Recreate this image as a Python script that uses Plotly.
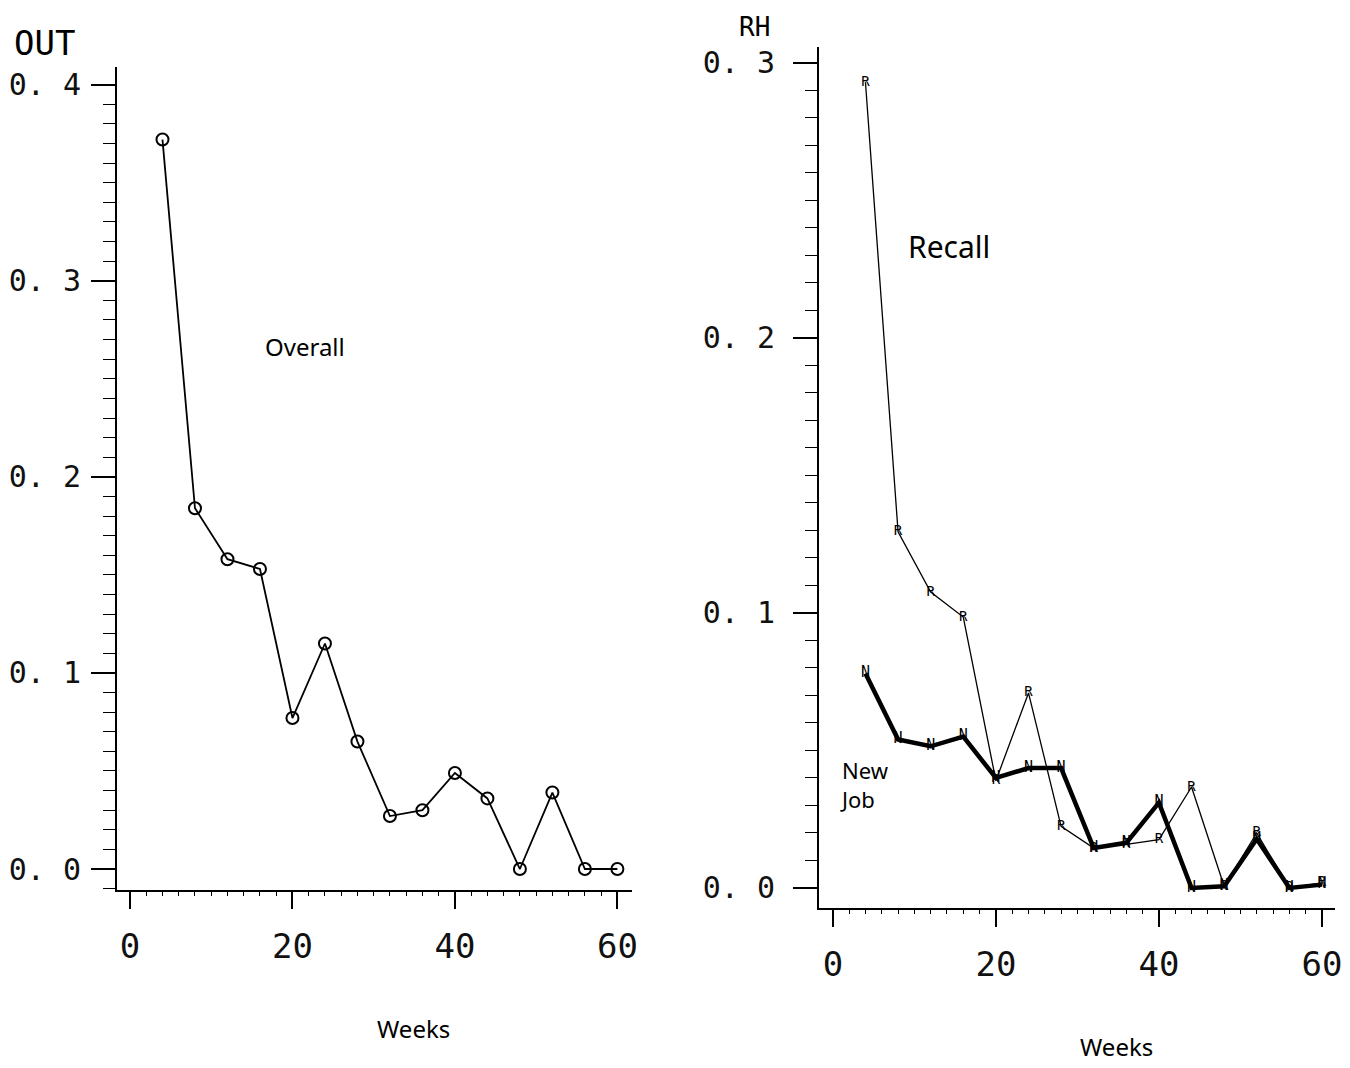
import plotly.graph_objects as go

weeks = [4, 8, 12, 16, 20, 24, 28, 32, 36, 40, 44, 48, 52, 56, 60]
overall = [0.372, 0.184, 0.158, 0.153, 0.077, 0.115, 0.065, 0.027, 0.030, 0.049, 0.036, 0.0, 0.039, 0.0, 0.0]
recall = [0.293, 0.1295, 0.1076, 0.0985, 0.039, 0.0709, 0.0224, 0.0145, 0.0158, 0.0176, 0.0367, 0.0006, 0.020, 0.0, 0.0018]
new_job = [0.078, 0.054, 0.0515, 0.055, 0.040, 0.0436, 0.0436, 0.0145, 0.0164, 0.031, 0.0, 0.0006, 0.0178, 0.0, 0.0012]

x_ticks = [0, 20, 40, 60]
x_tick_text = ["0", "20", "40", "60"]
y_left_ticks = [0.0, 0.1, 0.2, 0.3, 0.4]
y_left_text = ["0. 0", "0. 1", "0. 2", "0. 3", "0. 4"]
y_right_ticks = [0.0, 0.1, 0.2, 0.3]
y_right_text = ["0. 0", "0. 1", "0. 2", "0. 3"]

MONO = "DejaVu Sans Mono"
HAND = "Noto Sans"
W, H = 1350, 1068
OFF = 8  # page body margin


def fx(px):
    return (px - OFF) / W


def fy(py):
    return 1 - (py - OFF) / H


fig = go.Figure()

fig.add_trace(go.Scatter(
    x=weeks, y=overall, mode="lines+markers",
    line=dict(color="black", width=1.8),
    marker=dict(symbol="circle-open", size=12, color="black", line=dict(width=2)),
    xaxis="x", yaxis="y", showlegend=False, cliponaxis=False))

fig.add_trace(go.Scatter(
    x=weeks, y=recall, mode="lines+text", text=["R"] * len(weeks),
    textposition="middle center", textfont=dict(family=MONO, size=14, color="black"),
    line=dict(color="black", width=1.3),
    xaxis="x2", yaxis="y2", showlegend=False, cliponaxis=False))

fig.add_trace(go.Scatter(
    x=weeks, y=new_job, mode="lines+text", text=["N"] * len(weeks),
    textposition="middle center", textfont=dict(family=MONO, size=15, color="black"),
    line=dict(color="black", width=4.5),
    xaxis="x2", yaxis="y2", showlegend=False, cliponaxis=False))


def xax(domain, rng, anchor):
    return dict(domain=domain, range=rng, anchor=anchor,
                tickmode="array", tickvals=x_ticks, ticktext=x_tick_text,
                ticks="outside", ticklen=17, tickwidth=1.5, tickcolor="black",
                minor=dict(dtick=2, tick0=0, ticks="outside", ticklen=4, tickwidth=1.2, tickcolor="black"),
                showline=True, linecolor="black", linewidth=2,
                showgrid=False, zeroline=False, automargin=False,
                ticklabelstandoff=8,
                tickfont=dict(family=MONO, size=34, color="#111"))


def yax(domain, rng, anchor, vals, text, standoff):
    return dict(domain=domain, range=rng, anchor=anchor,
                tickmode="array", tickvals=vals, ticktext=text,
                ticks="outside", ticklen=24, tickwidth=1.5, tickcolor="black",
                minor=dict(dtick=0.01, tick0=0, ticks="outside", ticklen=12, tickwidth=1.2, tickcolor="black"),
                showline=True, linecolor="black", linewidth=2,
                showgrid=False, zeroline=False, automargin=False,
                ticklabelstandoff=standoff,
                tickfont=dict(family=MONO, size=30, color="#111"))


fig.update_layout(
    width=W, height=H,
    margin=dict(l=0, r=0, t=0, b=0),
    paper_bgcolor="white", plot_bgcolor="white",
    xaxis=xax([fx(117), fx(632)], [-1.6, 61.8], "y"),
    yaxis=yax([fy(890), fy(67)], [-0.0107, 0.409], "x", y_left_ticks, y_left_text, 4),
    xaxis2=xax([fx(819), fx(1335)], [-1.7, 61.6], "y2"),
    yaxis2=yax([fy(908), fy(47)], [-0.0073, 0.3058], "x2", y_right_ticks, y_right_text, 12),
)


def ann(text, px, py, size, family=HAND, xanchor="center"):
    fig.add_annotation(text=text, x=fx(px), y=fy(py), xref="paper", yref="paper",
                       xanchor=xanchor, yanchor="middle", showarrow=False, align="left",
                       font=dict(family=family, size=size, color="black"))


ann("Overall", 305, 347, 24)
ann("Recall", 949, 246, 30)
ann("New<br>Job", 838, 785, 22, xanchor="left")
ann("Weeks", 413, 1028, 24)
ann("Weeks", 1116, 1046, 24)
ann("OUT", 12, 43, 34, family=MONO, xanchor="left")
ann("RH", 737, 27, 26, family=MONO, xanchor="left")

fig.write_html("out.html")
